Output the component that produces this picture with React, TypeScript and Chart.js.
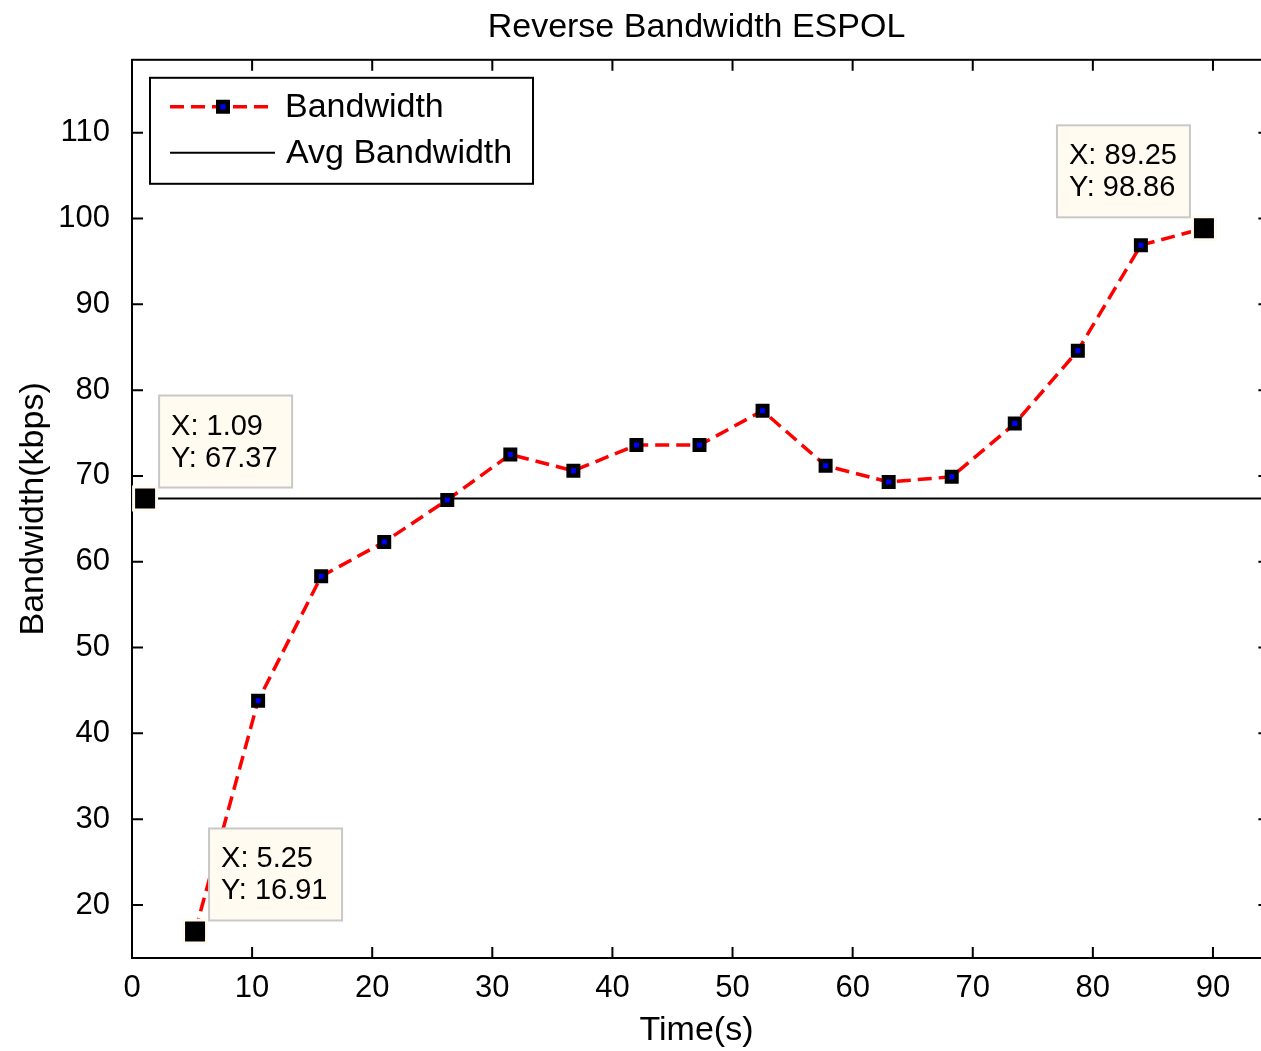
import React, { useEffect, useRef } from 'react';
import { Chart, registerables } from 'chart.js';

Chart.register(...registerables);

const TITLE = 'Reverse Bandwidth ESPOL';
const X_LABEL = 'Time(s)';
const Y_LABEL = 'Bandwidth(kbps)';
const SERIES_LABEL = 'Bandwidth';
const AVG_LABEL = 'Avg Bandwidth';

const timeS = [5.25, 10.5, 15.75, 21, 26.25, 31.5, 36.75, 42, 47.25, 52.5, 57.75, 63, 68.25, 73.5, 78.75, 84, 89.25];
const bandwidthKbps = [16.91, 43.8, 58.3, 62.3, 67.2, 72.5, 70.6, 73.6, 73.6, 77.6, 71.2, 69.3, 69.9, 76.1, 84.6, 96.9, 98.86];

const avgBandwidth = 67.37;
const avgLineX = [0, 95];

const datatipX = [1.09, 5.25, 89.25];
const datatipY = [67.37, 16.91, 98.86];
const datatipSide = ['right', 'right', 'left'];

const xTicks = [0, 10, 20, 30, 40, 50, 60, 70, 80, 90];
const yTicks = [20, 30, 40, 50, 60, 70, 80, 90, 100, 110];

const X_MIN = 0;
const X_MAX = 94.0;
const X_AXIS_END = 94.7; // right side of the axes box (just beyond the visible picture)
const Y_MIN = 13.82;
const Y_MAX = 118.5;

const FONT = '"Liberation Sans", Arial, Helvetica, sans-serif';
const RED = '#ff0000';
const DASH = [14, 7];
const TIP_BG = 'rgb(255,251,240)';
const TIP_EDGE = 'rgb(200,200,200)';

const framePlugin = {
  id: 'matlabFrame',
  beforeDatasetsDraw(chart: any) {
    const { ctx, chartArea: a, scales } = chart;
    const right = scales.x.getPixelForValue(X_AXIS_END);
    ctx.save();
    ctx.strokeStyle = '#000';
    ctx.lineWidth = 2;
    ctx.strokeRect(a.left, a.top, right - a.left, a.bottom - a.top);
    const tl = 11;
    ctx.beginPath();
    for (const v of xTicks) {
      const px = scales.x.getPixelForValue(v);
      ctx.moveTo(px, a.bottom);
      ctx.lineTo(px, a.bottom - tl);
      ctx.moveTo(px, a.top);
      ctx.lineTo(px, a.top + tl);
    }
    for (const v of yTicks) {
      const py = scales.y.getPixelForValue(v);
      ctx.moveTo(a.left, py);
      ctx.lineTo(a.left + tl, py);
      ctx.moveTo(right, py);
      ctx.lineTo(right - tl, py);
    }
    ctx.stroke();
    ctx.restore();
  },
};

function drawMarker(ctx: CanvasRenderingContext2D, x: number, y: number) {
  const s = 9.5;
  ctx.save();
  ctx.fillStyle = '#0000ff';
  ctx.strokeStyle = '#000';
  ctx.lineWidth = 4.5;
  ctx.setLineDash([]);
  ctx.beginPath();
  ctx.rect(x - s / 2, y - s / 2, s, s);
  ctx.fill();
  ctx.stroke();
  ctx.restore();
}

const overlayPlugin = {
  id: 'matlabOverlay',
  afterDraw(chart: any) {
    const { ctx, chartArea: a, scales } = chart;
    ctx.save();
    // datatips
    ctx.font = `29px ${FONT}`;
    ctx.textBaseline = 'middle';
    ctx.textAlign = 'left';
    for (let i = 0; i < datatipX.length; i++) {
      const px = scales.x.getPixelForValue(datatipX[i]);
      const py = scales.y.getPixelForValue(datatipY[i]);
      const w = 133;
      const h = 92;
      const left = datatipSide[i] === 'right' ? px + 14 : px - 14 - w;
      const top = py - 11 - h;
      ctx.fillStyle = TIP_BG;
      ctx.fillRect(left, top, w, h);
      ctx.strokeStyle = TIP_EDGE;
      ctx.lineWidth = 2;
      ctx.strokeRect(left, top, w, h);
      ctx.fillStyle = '#000';
      ctx.fillText(`X: ${datatipX[i].toFixed(2)}`, left + 12, top + 31);
      ctx.fillText(`Y: ${datatipY[i].toFixed(2)}`, left + 12, top + 63);
    }
    // legend
    const lx = a.left + 18;
    const ly = a.top + 18;
    const lw = 383;
    const lh = 106;
    ctx.fillStyle = '#fff';
    ctx.fillRect(lx, ly, lw, lh);
    ctx.strokeStyle = '#000';
    ctx.lineWidth = 2;
    ctx.strokeRect(lx, ly, lw, lh);
    const y1 = ly + 29;
    const y2 = ly + 75;
    ctx.strokeStyle = RED;
    ctx.lineWidth = 3.5;
    ctx.setLineDash(DASH);
    ctx.beginPath();
    ctx.moveTo(lx + 20, y1);
    ctx.lineTo(lx + 120, y1);
    ctx.stroke();
    ctx.setLineDash([]);
    drawMarker(ctx, lx + 73, y1);
    ctx.strokeStyle = '#000';
    ctx.lineWidth = 2;
    ctx.beginPath();
    ctx.moveTo(lx + 20, y2);
    ctx.lineTo(lx + 125, y2);
    ctx.stroke();
    ctx.fillStyle = '#000';
    ctx.font = `34px ${FONT}`;
    ctx.textBaseline = 'middle';
    ctx.fillText(SERIES_LABEL, lx + 135, y1 + 1);
    ctx.fillText(AVG_LABEL, lx + 136, y2 + 1);
    ctx.restore();
  },
};

export default function App() {
  const ref = useRef<HTMLCanvasElement>(null);

  useEffect(() => {
    if (!ref.current) return;
    const chart = new Chart(ref.current, {
      type: 'line',
      data: {
        datasets: [
          {
            label: 'Datatips',
            data: datatipX.map((x, i) => ({ x, y: datatipY[i] })),
            showLine: false,
            pointStyle: 'rect',
            pointRadius: 16.26,
            pointBackgroundColor: '#000',
            pointBorderColor: TIP_BG,
            pointBorderWidth: 3,
            order: 0,
            clip: false,
          } as any,
          {
            label: SERIES_LABEL,
            data: timeS.map((x, i) => ({ x, y: bandwidthKbps[i] })),
            borderColor: RED,
            borderWidth: 3.5,
            borderDash: DASH,
            pointStyle: 'rect',
            pointRadius: 6.72,
            pointBackgroundColor: '#0000ff',
            pointBorderColor: '#000',
            pointBorderWidth: 4.5,
            tension: 0,
            order: 1,
          } as any,
          {
            label: AVG_LABEL,
            data: avgLineX.map((x) => ({ x, y: avgBandwidth })),
            borderColor: '#000',
            borderWidth: 2,
            pointRadius: 0,
            order: 2,
          } as any,
        ],
      },
      options: {
        animation: false,
        responsive: false,
        layout: { padding: 0, autoPadding: false },
        plugins: {
          legend: { display: false },
          tooltip: { enabled: false },
          title: {
            display: true,
            text: TITLE,
            fullSize: false,
            color: '#000',
            font: { family: FONT, size: 34, weight: 'normal' as any, lineHeight: 1.2 },
            padding: { top: 7, bottom: 12 },
          },
        },
        scales: {
          x: {
            type: 'linear',
            min: X_MIN,
            max: X_MAX,
            grid: { display: false },
            border: { display: false },
            afterBuildTicks: (s: any) => {
              s.ticks = xTicks.map((v) => ({ value: v }));
            },
            afterFit: (s: any) => {
              s.height = 93;
              s.paddingLeft = 0;
              s.paddingRight = 0;
            },
            ticks: {
              color: '#000',
              font: { family: FONT, size: 31 },
              padding: 4,
              maxRotation: 0,
              autoSkip: false,
            },
            title: {
              display: true,
              text: X_LABEL,
              color: '#000',
              font: { family: FONT, size: 34, lineHeight: 1.2 },
              padding: { top: 0, bottom: 0 },
            },
          },
          y: {
            type: 'linear',
            min: Y_MIN,
            max: Y_MAX,
            grid: { display: false },
            border: { display: false },
            afterBuildTicks: (s: any) => {
              s.ticks = yTicks.map((v) => ({ value: v }));
            },
            afterFit: (s: any) => {
              s.width = 132;
              s.paddingTop = 0;
              s.paddingBottom = 0;
            },
            ticks: {
              color: '#000',
              font: { family: FONT, size: 31 },
              padding: 14,
              autoSkip: false,
            },
            title: {
              display: true,
              text: Y_LABEL,
              color: '#000',
              font: { family: FONT, size: 34, lineHeight: 1.2 },
              padding: { top: 13, bottom: 0 },
            },
          },
        },
      },
      plugins: [framePlugin, overlayPlugin],
    } as any);
    return () => chart.destroy();
  }, []);

  return (
    <div style={{ position: 'absolute', left: 0, top: 0, width: 1261, height: 1051, background: '#fff' }}>
      <canvas ref={ref} width={1261} height={1051} style={{ display: 'block', width: 1261, height: 1051 }} />
    </div>
  );
}
